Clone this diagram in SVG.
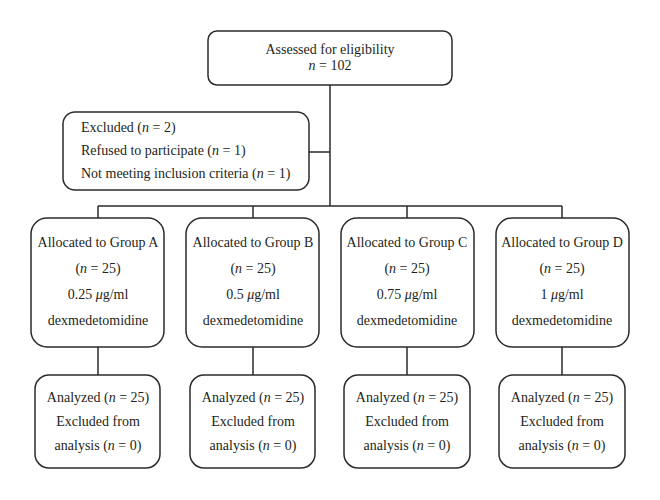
<svg xmlns="http://www.w3.org/2000/svg" width="660" height="500" viewBox="0 0 660 500">
<style>
.box{fill:#fff;stroke:#2b2b2b;stroke-width:1.5}
.ln{fill:none;stroke:#2b2b2b;stroke-width:1.5}
text{font-family:"Liberation Serif","Times New Roman",serif;font-size:14px;fill:#231f20}
.c{text-anchor:middle}
.i{font-style:italic}
</style>
<rect width="660" height="500" fill="#fff"/>
<g id="connectors">
<path class="ln" d="M330 85V206M309 152H330M98 206H562M98 206V218M253 206V218M407 206V218M562 206V218M98 347V375M253 347V375M407 347V375M562 347V375"/>
</g>
<g id="assessed">
<rect class="box" x="208" y="31" width="244" height="54" rx="9"/>
<text class="c" x="330" y="54">Assessed for eligibility</text>
<text class="c" x="330" y="70"><tspan class="i">n</tspan> = 102</text>
</g>
<g id="excluded">
<rect class="box" x="63" y="112" width="246" height="78" rx="12"/>
<text x="81" y="132">Excluded (<tspan class="i">n</tspan> = 2)</text>
<text x="81" y="155">Refused to participate (<tspan class="i">n</tspan> = 1)</text>
<text x="81" y="178">Not meeting inclusion criteria (<tspan class="i">n</tspan> = 1)</text>
</g>
<g id="groupA">
<rect class="box" x="31" y="218" width="133" height="129" rx="16"/>
<text class="c" x="98" y="247">Allocated to Group A</text>
<text class="c" x="98" y="273">(<tspan class="i">n</tspan> = 25)</text>
<text class="c" x="98" y="299">0.25 <tspan class="i">μ</tspan>g/ml</text>
<text class="c" x="98" y="325">dexmedetomidine</text>
</g>
<g id="groupB">
<rect class="box" x="186" y="218" width="133" height="129" rx="16"/>
<text class="c" x="253" y="247">Allocated to Group B</text>
<text class="c" x="253" y="273">(<tspan class="i">n</tspan> = 25)</text>
<text class="c" x="253" y="299">0.5 <tspan class="i">μ</tspan>g/ml</text>
<text class="c" x="253" y="325">dexmedetomidine</text>
</g>
<g id="groupC">
<rect class="box" x="341" y="218" width="133" height="129" rx="16"/>
<text class="c" x="407" y="247">Allocated to Group C</text>
<text class="c" x="407" y="273">(<tspan class="i">n</tspan> = 25)</text>
<text class="c" x="407" y="299">0.75 <tspan class="i">μ</tspan>g/ml</text>
<text class="c" x="407" y="325">dexmedetomidine</text>
</g>
<g id="groupD">
<rect class="box" x="496" y="218" width="133" height="129" rx="16"/>
<text class="c" x="562" y="247">Allocated to Group D</text>
<text class="c" x="562" y="273">(<tspan class="i">n</tspan> = 25)</text>
<text class="c" x="562" y="299">1 <tspan class="i">μ</tspan>g/ml</text>
<text class="c" x="562" y="325">dexmedetomidine</text>
</g>
<g id="analyzedA">
<rect class="box" x="35" y="375" width="125" height="93" rx="14"/>
<text class="c" x="98" y="402">Analyzed (<tspan class="i">n</tspan> = 25)</text>
<text class="c" x="98" y="426">Excluded from</text>
<text class="c" x="98" y="450">analysis (<tspan class="i">n</tspan> = 0)</text>
</g>
<g id="analyzedB">
<rect class="box" x="190" y="375" width="125" height="93" rx="14"/>
<text class="c" x="253" y="402">Analyzed (<tspan class="i">n</tspan> = 25)</text>
<text class="c" x="253" y="426">Excluded from</text>
<text class="c" x="253" y="450">analysis (<tspan class="i">n</tspan> = 0)</text>
</g>
<g id="analyzedC">
<rect class="box" x="344" y="375" width="126" height="93" rx="14"/>
<text class="c" x="407" y="402">Analyzed (<tspan class="i">n</tspan> = 25)</text>
<text class="c" x="407" y="426">Excluded from</text>
<text class="c" x="407" y="450">analysis (<tspan class="i">n</tspan> = 0)</text>
</g>
<g id="analyzedD">
<rect class="box" x="499" y="375" width="126" height="93" rx="14"/>
<text class="c" x="562" y="402">Analyzed (<tspan class="i">n</tspan> = 25)</text>
<text class="c" x="562" y="426">Excluded from</text>
<text class="c" x="562" y="450">analysis (<tspan class="i">n</tspan> = 0)</text>
</g>
</svg>
